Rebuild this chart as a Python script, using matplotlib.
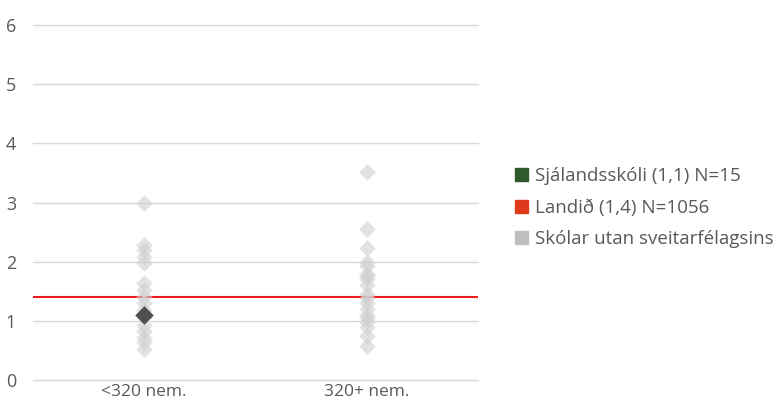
import matplotlib.pyplot as plt
from matplotlib.patches import Patch

# Data
categories = ["<320 nem.", "320+ nem."]
others_small = [3.0, 2.28, 2.2, 2.08, 1.98, 1.64, 1.52, 1.4, 1.3, 1.18,
                0.93, 0.83, 0.71, 0.64, 0.52]
others_large = [3.52, 2.55, 2.23, 2.0, 1.93, 1.8, 1.75, 1.7, 1.6, 1.45,
                1.38, 1.3, 1.2, 1.1, 1.05, 0.98, 0.9, 0.75, 0.58]
school_value = 1.1
school_category = 0
national_value = 1.4
legend_labels = ["Sjálandsskóli (1,1) N=15", "Landið (1,4) N=1056",
                 "Skólar utan sveitarfélagsins"]

plt.rcParams['font.family'] = ['Open Sans', 'DejaVu Sans']
text_color = "#595959"

fig = plt.figure(figsize=(7.8, 4.03), dpi=100)
ax = fig.add_axes([0.042, 0.057, 0.571, 0.881])

# gray diamonds for other schools
for i, vals in enumerate([others_small, others_large]):
    ax.scatter([i] * len(vals), vals, marker="D", s=72, color="#d0d0d0",
               alpha=0.6, linewidths=0, zorder=3)

# the school itself
ax.scatter([school_category], [school_value], marker="D", s=90,
           color="#505050", linewidths=0, zorder=4)

# national average line
ax.axhline(national_value, color="#ee1c1c", lw=1.5, zorder=2)

ax.set_xlim(-0.5, 1.5)
ax.set_ylim(0, 6)
ax.set_yticks(range(0, 7))
ax.set_xticks(range(len(categories)))
ax.set_xticklabels(categories)
ax.yaxis.grid(True, color="#d9d9d9", lw=1, clip_on=False)
ax.set_axisbelow(True)
for s in ax.spines.values():
    s.set_visible(False)
ax.tick_params(length=0, colors=text_color)
ax.tick_params(axis="y", pad=12, labelsize=13)
ax.tick_params(axis="x", pad=3, labelsize=12.5)

handles = [Patch(color="#2e5a2e"), Patch(color="#e03a1c"),
           Patch(color="#bfbfbf")]
fig.legend(handles, legend_labels, loc="center left",
           bbox_to_anchor=(0.651, 0.484), frameon=False, fontsize=13.5,
           labelcolor=text_color, handlelength=0.7, handleheight=0.7,
           handletextpad=0.35, labelspacing=0.72, borderaxespad=0)

fig.savefig("out.png", dpi=100)
